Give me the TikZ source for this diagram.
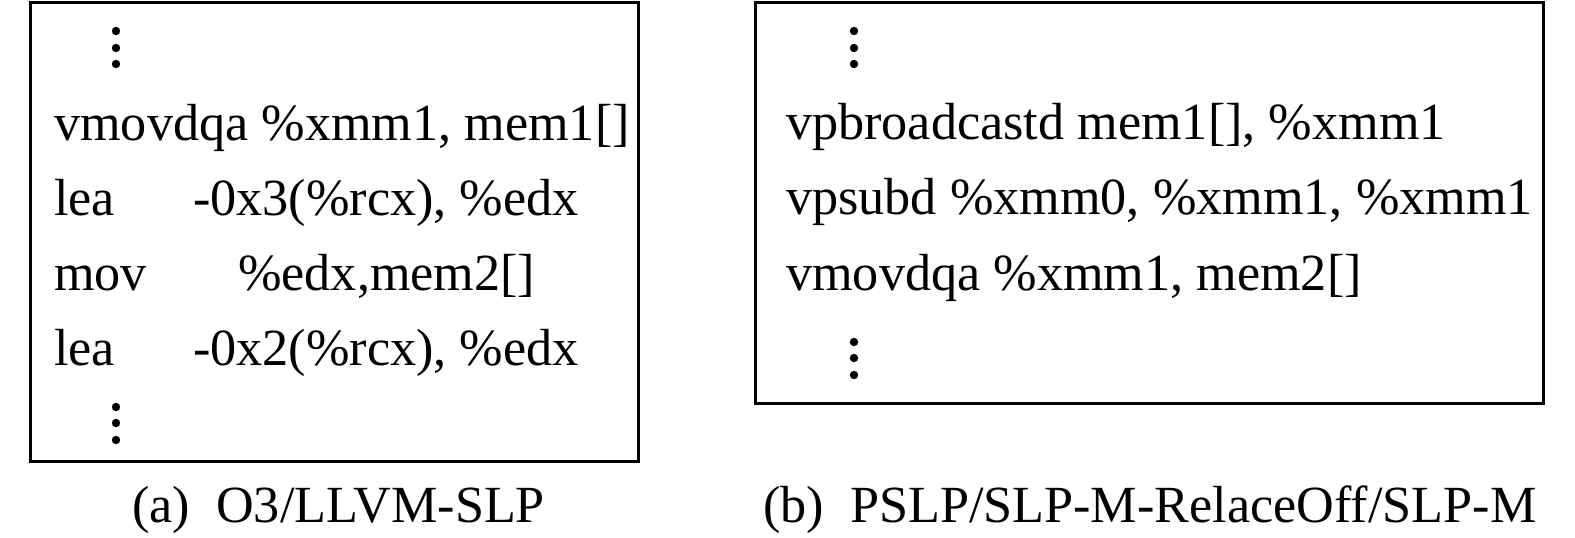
\documentclass[tikz,border=0pt]{standalone}
\usepackage{fontspec}
\setmainfont{Liberation Serif}
\begin{document}
\begin{tikzpicture}[x=1pt,y=1pt,
  codetext/.style={anchor=base west,inner sep=0pt,font=\fontsize{52.2}{60}\selectfont},
  captext/.style={anchor=base west,inner sep=0pt,font=\fontsize{52.2}{60}\selectfont},
  panel/.style={draw=black,line width=3pt},
  dotmark/.style={fill=black,draw=none}]
\useasboundingbox (0,0) rectangle (1575,-538);
% panel (a)
\draw[panel] (30.5,-2.5) rectangle (638.5,-461);
\foreach \yy in {31,48,64} \fill[dotmark] (116,-\yy) circle (4.2);
\node[codetext] (a1op) at (54,-140) {vmovdqa \%xmm1, mem1[]};
\node[codetext] (a2op) at (54,-215) {lea};
\node[codetext] (a2ar) at (193,-215) {-0x3(\%rcx), \%edx};
\node[codetext] (a3op) at (54,-290) {mov};
\node[codetext] (a3ar) at (238,-290) {\%edx,mem2[]};
\node[codetext] (a4op) at (54,-365) {lea};
\node[codetext] (a4ar) at (193,-365) {-0x2(\%rcx), \%edx};
\foreach \yy in {407,423,440} \fill[dotmark] (116,-\yy) circle (4.2);
\node[captext] (capa) at (132,-522) {(a)\hspace{0.5em}O3/LLVM-SLP};
% panel (b)
\draw[panel] (755.5,-2.5) rectangle (1543.5,-403);
\foreach \yy in {31,48,64} \fill[dotmark] (854,-\yy) circle (4.2);
\node[codetext] (b1) at (786,-139) {vpbroadcastd mem1[], \%xmm1};
\node[codetext] (b2) at (786,-214) {vpsubd \%xmm0, \%xmm1, \%xmm1};
\node[codetext] (b3) at (786,-290) {vmovdqa \%xmm1, mem2[]};
\foreach \yy in {342,358,375} \fill[dotmark] (854,-\yy) circle (4.2);
\node[captext] (capb) at (763,-522) {(b)\hspace{0.5em}PSLP/SLP-M-RelaceOff/SLP-M};
\end{tikzpicture}
\end{document}
